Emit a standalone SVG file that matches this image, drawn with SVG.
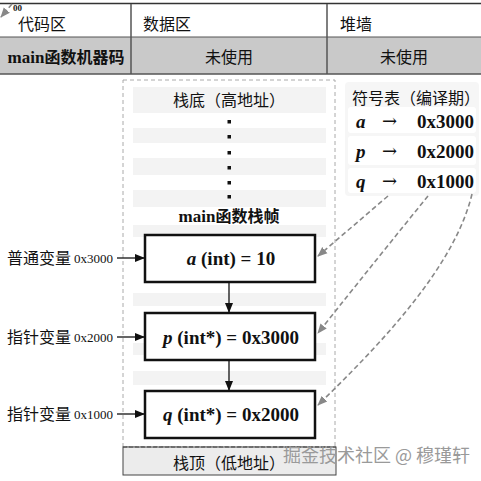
<svg xmlns="http://www.w3.org/2000/svg" width="481" height="481" viewBox="0 0 481 481">
<style>
.cn{font-family:"Noto Sans CJK SC","Noto Sans",sans-serif;font-size:16px;fill:#111}
.sf{font-family:"Liberation Serif",serif;font-weight:bold;font-size:19px;fill:#111}
.sm{font-family:"Liberation Serif",serif;font-size:13px;fill:#111}
.box{fill:#fff;stroke:#111;stroke-width:2.5}
.stripe{fill:#f3f3f3}
.dash{fill:none;stroke:#888;stroke-width:1.6;stroke-dasharray:5 3}
.solid{stroke:#111;stroke-width:1.3;fill:none}
</style>
<defs>
<marker id="ah" markerWidth="10" markerHeight="10" refX="9" refY="5" orient="auto" markerUnits="userSpaceOnUse">
<path d="M0,1 L10,5 L0,9 Z" fill="#111"/>
</marker>
<marker id="gh" markerWidth="10" markerHeight="10" refX="9" refY="5" orient="auto" markerUnits="userSpaceOnUse">
<path d="M0,1 L10,5 L0,9 Z" fill="#888"/>
</marker>
</defs>
<rect width="481" height="481" fill="#fff"/>

<g id="memory-table">
<rect x="0" y="37" width="481" height="37" fill="#c9c9c9"/>
<line x1="0" y1="3.5" x2="481" y2="3.5" stroke="#333" stroke-width="1.5"/>
<line x1="0" y1="37" x2="481" y2="37" stroke="#555" stroke-width="1"/>
<line x1="0" y1="74" x2="481" y2="74" stroke="#555" stroke-width="1.5"/>
<line x1="131" y1="4" x2="131" y2="74" stroke="#555" stroke-width="1.5"/>
<line x1="327" y1="4" x2="327" y2="74" stroke="#555" stroke-width="1.5"/>
<text class="cn" x="18" y="30">代码区</text>
<text class="cn" x="143" y="30">数据区</text>
<text class="cn" x="340" y="30">堆墙</text>
<text x="66" y="63" text-anchor="middle" style="font-family:'Noto Sans CJK SC',sans-serif;font-size:16px;font-weight:bold;fill:#111"><tspan style="font-family:'Liberation Serif',serif;font-size:17px">main</tspan>函数机器码</text>
<text class="cn" x="229" y="63" text-anchor="middle">未使用</text>
<text class="cn" x="404" y="63" text-anchor="middle">未使用</text>
</g>

<g id="artifact">
<text x="13" y="11" style="font-family:'Liberation Serif',serif;font-size:9px;font-weight:bold;fill:#111">00</text>
<line x1="12" y1="4" x2="1" y2="17" class="dash" marker-end="url(#gh)"/>
</g>

<g id="stack">
<rect x="123" y="80" width="212" height="367" fill="none" stroke="#aaa" stroke-width="1" stroke-dasharray="4 3"/>
<rect class="stripe" x="133" y="87" width="193" height="26"/>
<rect class="stripe" x="133" y="128" width="193" height="15"/>
<rect class="stripe" x="133" y="158" width="193" height="17"/>
<rect class="stripe" x="133" y="190" width="193" height="17"/>
<rect class="stripe" x="133" y="225" width="193" height="12"/>
<rect class="stripe" x="133" y="293" width="193" height="13"/>
<rect class="stripe" x="133" y="343" width="193" height="12"/>
<rect class="stripe" x="133" y="371" width="193" height="14"/>
<text class="cn" x="229" y="106" text-anchor="middle">栈底（高地址）</text>
<g fill="#111">
<rect x="227.5" y="120" width="3.5" height="3.5"/>
<rect x="227.5" y="135" width="3.5" height="3.5"/>
<rect x="227.5" y="151" width="3.5" height="3.5"/>
<rect x="227.5" y="166" width="3.5" height="3.5"/>
<rect x="227.5" y="181" width="3.5" height="3.5"/>
<rect x="227.5" y="195" width="3.5" height="3.5"/>
</g>
<text x="229" y="222" text-anchor="middle" style="font-family:'Noto Sans CJK SC',sans-serif;font-size:16px;font-weight:bold;fill:#111"><tspan style="font-family:'Liberation Serif',serif;font-size:17px">main</tspan>函数栈帧</text>
</g>

<g id="node-a">
<rect class="box" x="145" y="235" width="170" height="47"/>
<text class="sf" x="231" y="265" text-anchor="middle"><tspan font-style="italic">a</tspan> (int) = 10</text>
</g>
<g id="node-p">
<rect class="box" x="145" y="313" width="170" height="47"/>
<text class="sf" x="231" y="344" text-anchor="middle"><tspan font-style="italic">p</tspan> (int*) = 0x3000</text>
</g>
<g id="node-q">
<rect class="box" x="145" y="391" width="170" height="47"/>
<text class="sf" x="231" y="421" text-anchor="middle"><tspan font-style="italic">q</tspan> (int*) = 0x2000</text>
</g>

<g id="stack-top">
<rect x="123" y="447" width="213" height="28" fill="#ececec" stroke="#444" stroke-width="1"/>
<line x1="123" y1="447" x2="336" y2="447" stroke="#444" stroke-width="1.2" stroke-dasharray="4 2"/>
<text class="cn" x="229" y="469" text-anchor="middle">栈顶（低地址）</text>
</g>

<g id="label-a">
<text class="cn" x="7" y="264">普通变量</text>
<text class="sm" x="74" y="263">0x3000</text>
</g>
<g id="label-p">
<text class="cn" x="7" y="343">指针变量</text>
<text class="sm" x="74" y="342">0x2000</text>
</g>
<g id="label-q">
<text class="cn" x="7" y="420">指针变量</text>
<text class="sm" x="74" y="419">0x1000</text>
</g>

<g id="symbol-table">
<rect x="345" y="82" width="134" height="114" rx="4" fill="#f6f6f6"/>
<rect x="348" y="107" width="128" height="26" rx="3" fill="#fff"/>
<rect x="348" y="136" width="128" height="29" rx="3" fill="#fff"/>
<rect x="348" y="168" width="128" height="25" rx="3" fill="#fff"/>
<text class="cn" x="352" y="104">符号表（编译期）</text>
<text class="sf" x="356" y="128"><tspan font-style="italic">a</tspan></text>
<text x="382" y="127" style="font-family:'DejaVu Serif',serif;font-size:18px;fill:#111">→</text>
<text class="sf" x="417" y="128">0x3000</text>
<text class="sf" x="356" y="158"><tspan font-style="italic">p</tspan></text>
<text x="382" y="157" style="font-family:'DejaVu Serif',serif;font-size:18px;fill:#111">→</text>
<text class="sf" x="417" y="158">0x2000</text>
<text class="sf" x="356" y="188"><tspan font-style="italic">q</tspan></text>
<text x="382" y="187" style="font-family:'DejaVu Serif',serif;font-size:18px;fill:#111">→</text>
<text class="sf" x="417" y="188">0x1000</text>
</g>

<g id="connectors">
<line class="solid" x1="229" y1="282" x2="229" y2="312" marker-end="url(#ah)"/>
<line class="solid" x1="229" y1="360" x2="229" y2="390" marker-end="url(#ah)"/>
<line class="solid" x1="117" y1="258" x2="144" y2="258" marker-end="url(#ah)"/>
<line class="solid" x1="117" y1="337" x2="144" y2="337" marker-end="url(#ah)"/>
<line class="solid" x1="117" y1="414" x2="144" y2="414" marker-end="url(#ah)"/>
<path class="dash" d="M388,196 L318,256" marker-end="url(#gh)"/>
<path class="dash" d="M428,196 Q380,255 318,333" marker-end="url(#gh)"/>
<path class="dash" d="M472,194 C455,265 385,340 318,405" marker-end="url(#gh)"/>
</g>

<g id="watermark">
<text x="283" y="462" style="font-family:'Noto Sans CJK SC',sans-serif;font-size:18px;fill:#9a9a9a">掘金技术社区 @ 穆瑾轩</text>
</g>
</svg>
